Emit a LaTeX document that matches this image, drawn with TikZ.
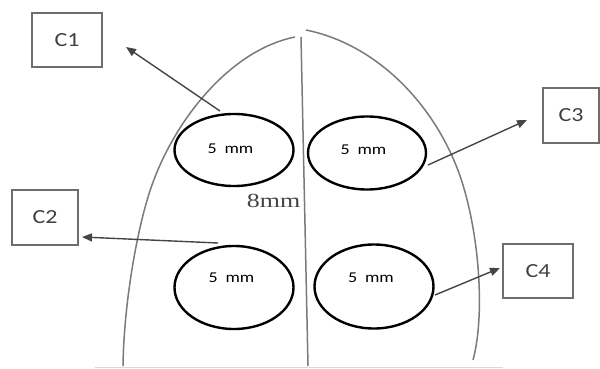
\documentclass[tikz,border=0pt]{standalone}
\usepackage{graphicx}
\usepackage{fontspec}
\setmainfont{Carlito}
\newfontfamily\serifface{Liberation Serif}
\usetikzlibrary{shapes.geometric,arrows.meta}
\definecolor{curvegray}{HTML}{7A7A7A}
\definecolor{boxgray}{HTML}{6E6E6E}
\definecolor{arrowgray}{HTML}{454545}
\definecolor{labgray}{HTML}{404040}
\tikzset{
  spot/.style={ellipse, draw=black, line width=2.4pt, inner sep=0pt},
  cbox/.style={rectangle, draw=boxgray, line width=1.6pt, inner sep=0pt,
    text=labgray, font=\fontsize{20}{22}\selectfont},
  mmlab/.style={text=black, font=\fontsize{15}{17}\selectfont, inner sep=0pt},
  outline/.style={draw=curvegray, line width=1.5pt},
  pointer/.style={draw=arrowgray, line width=1.4pt, -{Triangle[length=10pt,width=8pt]}},
}
\begin{document}
\begin{tikzpicture}[x=1pt,y=-1pt]
\useasboundingbox (0,0) rectangle (600,369);
% outline of the region
\draw[outline] (295,37) .. controls (230,50) and (175,120) .. (152,185)
  .. controls (138,224) and (124,300) .. (123,366);
\draw[outline] (306,30) .. controls (380,45) and (440,110) .. (463,185)
  .. controls (481,245) and (484,320) .. (473,360);
\draw[outline] (301,37) -- (308,366);
\draw[draw=black!15, line width=0.8pt] (95,367) -- (503,367);
% spots
\node[spot, minimum width=119pt, minimum height=72pt] (e1) at (234,150) {};
\node[spot, minimum width=118pt, minimum height=73pt] (e2) at (367,153) {};
\node[spot, minimum width=119pt, minimum height=83pt] (e3) at (234,287.5) {};
\node[spot, minimum width=119pt, minimum height=84pt] (e4) at (374,286.5) {};
\node[mmlab] (t1) at (230.5,149) {\scalebox{1.2}[1]{5\hspace{3pt} mm}};
\node[mmlab] (t2) at (363.5,150) {\scalebox{1.2}[1]{5\hspace{3pt} mm}};
\node[mmlab] (t3) at (231.5,278) {\scalebox{1.2}[1]{5\hspace{3pt} mm}};
\node[mmlab] (t4) at (371,278) {\scalebox{1.2}[1]{5\hspace{3pt} mm}};
\node[text=arrowgray, font=\serifface\fontsize{20}{22}\selectfont, inner sep=0pt] (d) at (273.5,201) {\scalebox{1.3}[1]{8mm}};
% boxes
\node[cbox, minimum width=70pt, minimum height=54pt] (c1) at (67,40) {\scalebox{1.2}[1]{C1}};
\node[cbox, minimum width=66pt, minimum height=55pt] (c2) at (45,217.5) {\scalebox{1.2}[1]{C2}};
\node[cbox, minimum width=56pt, minimum height=55pt] (c3) at (571,115.5) {\scalebox{1.2}[1]{C3}};
\node[cbox, minimum width=70pt, minimum height=54pt] (c4) at (538,271) {\scalebox{1.2}[1]{C4}};
% arrow ends
\coordinate (s1) at (220,111);
\coordinate (p1) at (126,47);
\coordinate (s2) at (218,243);
\coordinate (p2) at (82,237);
\coordinate (s3) at (428,165);
\coordinate (p3) at (527,120);
\coordinate (s4) at (435,295);
\coordinate (p4) at (500,268);
\draw[pointer] (s1) -- (p1);
\draw[pointer] (s2) -- (p2);
\draw[pointer] (s3) -- (p3);
\draw[pointer] (s4) -- (p4);
\end{tikzpicture}
\end{document}
